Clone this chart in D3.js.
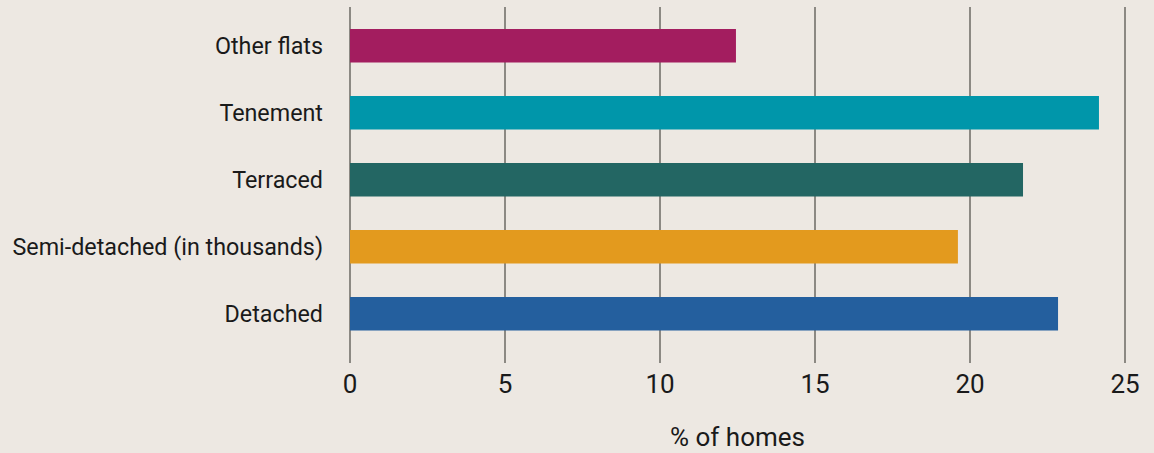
<!DOCTYPE html>
<html>
<head>
<meta charset="utf-8">
<script src="https://cdn.jsdelivr.net/npm/d3@7"></script>
<style>
  html, body { margin: 0; padding: 0; background: #ede8e2; }
  svg { display: block; }
  text { font-family: Roboto, "Noto Sans", sans-serif; fill: #1a1a1a; }
</style>
</head>
<body>
<svg id="chart" width="1154" height="453"></svg>
<script>
// Dwelling types, top to bottom
const categories = ["Other flats", "Tenement", "Terraced", "Semi-detached (in thousands)", "Detached"];
// Share of homes (%)
const values = [12.45, 24.16, 21.71, 19.61, 22.84];
const colors = ["#a31d5f", "#0096aa", "#236663", "#e39a1e", "#245f9e"];
const xTicks = [0, 5, 10, 15, 20, 25];
const xTitle = "% of homes";

const svg = d3.select("#chart");
const W = 1154, H = 453;
svg.append("rect").attr("width", W).attr("height", H).attr("fill", "#ede8e2");

const x = d3.scaleLinear().domain([0, 25]).range([350, 1125]);
const y = d3.scaleBand().domain(categories).range([12.25, 347.25])
  .paddingInner(0.5).paddingOuter(0.25);

// vertical gridlines, extending below the plot as tick marks
svg.append("g").selectAll("line").data(xTicks).join("line")
  .attr("x1", d => x(d)).attr("x2", d => x(d))
  .attr("y1", 7).attr("y2", 363)
  .attr("stroke", "#8c8983").attr("stroke-width", 2);

// bars
svg.append("g").selectAll("rect").data(categories).join("rect")
  .attr("x", x(0))
  .attr("y", d => y(d))
  .attr("width", (d, i) => x(values[i]) - x(0))
  .attr("height", y.bandwidth())
  .attr("fill", (d, i) => colors[i]);

// category labels
svg.append("g").selectAll("text").data(categories).join("text")
  .attr("x", 323)
  .attr("y", d => y(d) + y.bandwidth() / 2)
  .attr("dy", "0.35em")
  .attr("text-anchor", "end")
  .style("font-size", "23.3px")
  .text(d => d);

// tick labels
svg.append("g").selectAll("text").data(xTicks).join("text")
  .attr("x", d => x(d))
  .attr("y", 393)
  .attr("text-anchor", "middle")
  .style("font-size", "26px")
  .text(d => d);

// axis title
svg.append("text")
  .attr("x", (x(0) + x(25)) / 2)
  .attr("y", 446)
  .attr("text-anchor", "middle")
  .style("font-size", "26px")
  .text(xTitle);
</script>
</body>
</html>
